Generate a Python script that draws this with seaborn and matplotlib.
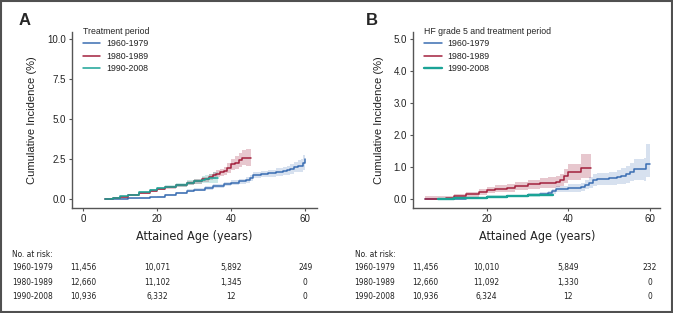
import matplotlib
matplotlib.use('Agg')
import matplotlib.pyplot as plt
import matplotlib.transforms as mtransforms
from matplotlib.patches import Rectangle
from matplotlib import font_manager
import seaborn as sns
import pandas as pd

sns.set_style('ticks')
plt.rcParams['font.family'] = ['Liberation Sans', 'DejaVu Sans']
installed = {f.name for f in font_manager.fontManager.ttflist}
if 'Liberation Sans Narrow' in installed:
    NARROW = dict(family='Liberation Sans Narrow')
else:
    NARROW = dict(family='DejaVu Sans', fontstretch='condensed')

periods = ['1960-1979', '1980-1989', '1990-2008']
colors = ['#3a6db2', '#a3203d', '#1aa396']
band_alpha = [0.2, 0.25, 0.22]

# ---- panel A: any heart failure ----
age_a1 = [6, 8, 10, 12, 15, 18, 20, 22, 25, 28, 30, 33, 35, 38, 40, 42, 44, 45, 46, 48, 50, 52, 54, 55, 56, 57, 58, 59, 59.5, 60]
ci_a1 = [0, 0.02, 0.04, 0.06, 0.08, 0.12, 0.16, 0.25, 0.4, 0.52, 0.6, 0.72, 0.82, 0.95, 1.05, 1.12, 1.2, 1.35, 1.5, 1.58, 1.63, 1.7, 1.75, 1.82, 1.9, 2.0, 2.08, 2.1, 2.3, 2.5]
lo_a1 = [0, 0.0, 0.01, 0.02, 0.04, 0.07, 0.1, 0.18, 0.32, 0.43, 0.5, 0.61, 0.7, 0.82, 0.91, 0.97, 1.03, 1.17, 1.31, 1.38, 1.42, 1.47, 1.5, 1.55, 1.6, 1.68, 1.72, 1.7, 1.85, 1.95]
hi_a1 = [0.02, 0.05, 0.08, 0.1, 0.13, 0.17, 0.23, 0.33, 0.49, 0.62, 0.71, 0.84, 0.95, 1.09, 1.2, 1.28, 1.38, 1.54, 1.7, 1.79, 1.85, 1.94, 2.01, 2.1, 2.21, 2.34, 2.46, 2.55, 2.8, 3.3]

age_a2 = [6, 8, 10, 12, 15, 18, 20, 22, 25, 28, 30, 32, 34, 35, 36, 37, 38, 39, 40, 41, 42, 43, 44, 45.5]
ci_a2 = [0, 0.08, 0.15, 0.25, 0.4, 0.55, 0.65, 0.75, 0.88, 1.02, 1.12, 1.25, 1.4, 1.5, 1.6, 1.68, 1.78, 1.95, 2.2, 2.3, 2.45, 2.6, 2.6, 2.6]
lo_a2 = [0, 0.04, 0.1, 0.19, 0.33, 0.47, 0.56, 0.65, 0.77, 0.89, 0.98, 1.09, 1.21, 1.3, 1.38, 1.44, 1.52, 1.65, 1.85, 1.92, 2.03, 2.12, 2.1, 2.1]
hi_a2 = [0.02, 0.12, 0.2, 0.31, 0.47, 0.63, 0.74, 0.85, 0.99, 1.15, 1.26, 1.41, 1.59, 1.7, 1.82, 1.92, 2.04, 2.25, 2.55, 2.68, 2.87, 3.1, 3.15, 3.2]

age_a3 = [6, 8, 10, 12, 15, 18, 20, 22, 25, 28, 30, 32, 33, 34, 35, 36.5]
ci_a3 = [0, 0.1, 0.18, 0.28, 0.45, 0.58, 0.7, 0.8, 0.92, 1.05, 1.12, 1.22, 1.28, 1.32, 1.35, 1.35]
lo_a3 = [0, 0.06, 0.13, 0.22, 0.38, 0.5, 0.61, 0.7, 0.8, 0.9, 0.95, 1.02, 1.05, 1.05, 1.02, 1.0]
hi_a3 = [0.03, 0.14, 0.23, 0.34, 0.52, 0.66, 0.79, 0.9, 1.04, 1.2, 1.3, 1.43, 1.52, 1.6, 1.7, 1.75]

# ---- panel B: HF grade 5 ----
age_b1 = [5, 10, 15, 20, 25, 30, 33, 35, 36, 37, 40, 43, 44, 45, 46, 47, 50, 52, 53, 54, 55, 56, 58.5, 59, 60]
ci_b1 = [0, 0.0, 0.03, 0.06, 0.1, 0.14, 0.17, 0.2, 0.25, 0.32, 0.35, 0.38, 0.45, 0.52, 0.6, 0.62, 0.65, 0.68, 0.72, 0.78, 0.85, 0.93, 0.93, 1.1, 1.1]
lo_b1 = [0, 0, 0.01, 0.03, 0.06, 0.09, 0.11, 0.13, 0.17, 0.22, 0.24, 0.26, 0.31, 0.36, 0.42, 0.43, 0.45, 0.46, 0.48, 0.52, 0.56, 0.6, 0.58, 0.7, 0.7]
hi_b1 = [0.02, 0.03, 0.06, 0.1, 0.14, 0.19, 0.23, 0.27, 0.33, 0.42, 0.46, 0.5, 0.59, 0.68, 0.78, 0.81, 0.85, 0.9, 0.96, 1.04, 1.14, 1.26, 1.28, 1.72, 1.72]

age_b2 = [5, 10, 12, 15, 18, 20, 22, 25, 27, 30, 33, 35, 37, 38, 39, 40, 42, 43, 45.5]
ci_b2 = [0, 0.05, 0.1, 0.15, 0.22, 0.28, 0.32, 0.36, 0.42, 0.46, 0.5, 0.52, 0.55, 0.6, 0.72, 0.85, 0.85, 0.98, 0.97]
lo_b2 = [0, 0.01, 0.04, 0.08, 0.13, 0.18, 0.21, 0.24, 0.29, 0.32, 0.35, 0.36, 0.38, 0.41, 0.5, 0.6, 0.6, 0.65, 0.62]
hi_b2 = [0.1, 0.1, 0.16, 0.22, 0.31, 0.38, 0.43, 0.48, 0.55, 0.6, 0.65, 0.68, 0.72, 0.8, 0.95, 1.1, 1.1, 1.42, 1.42]

age_b3 = [8, 12, 15, 20, 25, 30, 33, 36.3]
ci_b3 = [0, 0.03, 0.05, 0.08, 0.1, 0.12, 0.13, 0.14]
lo_b3 = [0, 0.01, 0.02, 0.05, 0.07, 0.08, 0.09, 0.1]
hi_b3 = [0.04, 0.06, 0.08, 0.12, 0.14, 0.16, 0.17, 0.19]

# ---- number at risk ----
risk_a = [[11456, 10071, 5892, 249], [12660, 11102, 1345, 0], [10936, 6332, 12, 0]]
risk_b = [[11456, 10010, 5849, 232], [12660, 11092, 1330, 0], [10936, 6324, 12, 0]]

fig = plt.figure(figsize=(6.73, 3.13), dpi=100)
ax_a = fig.add_axes([0.107, 0.335, 0.364, 0.562])
ax_b = fig.add_axes([0.614, 0.335, 0.367, 0.562])

panels = [
    (ax_a, [(age_a1, ci_a1, lo_a1, hi_a1), (age_a2, ci_a2, lo_a2, hi_a2), (age_a3, ci_a3, lo_a3, hi_a3)],
     'Treatment period', 'A', risk_a, [0, 20, 40, 60], 0.018, 0.037),
    (ax_b, [(age_b1, ci_b1, lo_b1, hi_b1), (age_b2, ci_b2, lo_b2, hi_b2), (age_b3, ci_b3, lo_b3, hi_b3)],
     'HF grade 5 and treatment period', 'B', risk_b, [5, 20, 40, 60], 0.527, 0.552),
]

for ax, series, leg_title, letter, risk, risk_x, lab_x, let_x in panels:
    for (age, ci, lo, hi), name, col, al in zip(series, periods, colors, band_alpha):
        d = pd.DataFrame({'age': age, 'ci': ci})
        ax.fill_between(age, lo, hi, step='post', color=col, alpha=al, lw=0)
        lw = 1.7 if (letter == 'B' and name == '1990-2008') else 1.1
        sns.lineplot(data=d, x='age', y='ci', ax=ax, color=col, lw=lw,
                     drawstyle='steps-post', label=name, estimator=None)

    for s in ['top', 'right']:
        ax.spines[s].set_visible(False)
    for s in ['left', 'bottom']:
        ax.spines[s].set_color('#555555')
        ax.spines[s].set_linewidth(1.0)
    ax.tick_params(axis='both', labelsize=7, colors='#555555', labelcolor='#222222',
                   length=2.5, width=0.8, pad=2)
    ax.set_ylabel('Cumulative Incidence (%)', fontsize=8, color='#222222', labelpad=7)
    ax.set_xlabel('Attained Age (years)', fontsize=9, color='#222222', labelpad=4, **NARROW)
    leg = ax.legend(title=leg_title, loc='upper left', bbox_to_anchor=(0.03, 1.05),
                    frameon=False, fontsize=6.3, title_fontsize=6.3, handlelength=2.0,
                    handletextpad=0.7, labelspacing=0.38, borderaxespad=0, alignment='left')
    for t in leg.get_texts():
        t.set_color('#222222')

    fig.text(let_x, 0.935, letter, fontsize=12, fontweight='bold', va='center', ha='center')

    # number at risk table under the axis
    trans = mtransforms.blended_transform_factory(ax.transData, fig.transFigure)
    fig.text(lab_x, 0.188, 'No. at risk:', fontsize=6, va='center', color='#222222', **NARROW)
    for r, (name, row) in enumerate(zip(periods, risk)):
        y = 0.144 - r * 0.045
        fig.text(lab_x, y, name, fontsize=6, va='center', color='#222222', **NARROW)
        for xv, v in zip(risk_x, row):
            ax.text(xv, y, f'{v:,}', transform=trans, fontsize=6, va='center',
                    ha='center', color='#222222', **NARROW)

ax_a.set_xlim(-3, 63.2)
ax_a.set_ylim(-0.55, 10.45)
ax_a.set_xticks([0, 20, 40, 60])
ax_a.set_yticks([0, 2.5, 5, 7.5, 10])
ax_a.set_yticklabels(['0.0', '2.5', '5.0', '7.5', '10.0'])

ax_b.set_xlim(2, 62.5)
ax_b.set_ylim(-0.28, 5.22)
ax_b.set_xticks([20, 40, 60])
ax_b.set_yticks([0, 1, 2, 3, 4, 5])
ax_b.set_yticklabels(['0.0', '1.0', '2.0', '3.0', '4.0', '5.0'])

fig.patches.append(Rectangle((0.0015, 0.003), 0.997, 0.994, transform=fig.transFigure,
                             fill=False, edgecolor='#505050', lw=1.5))

fig.savefig('out.png', dpi=100)
